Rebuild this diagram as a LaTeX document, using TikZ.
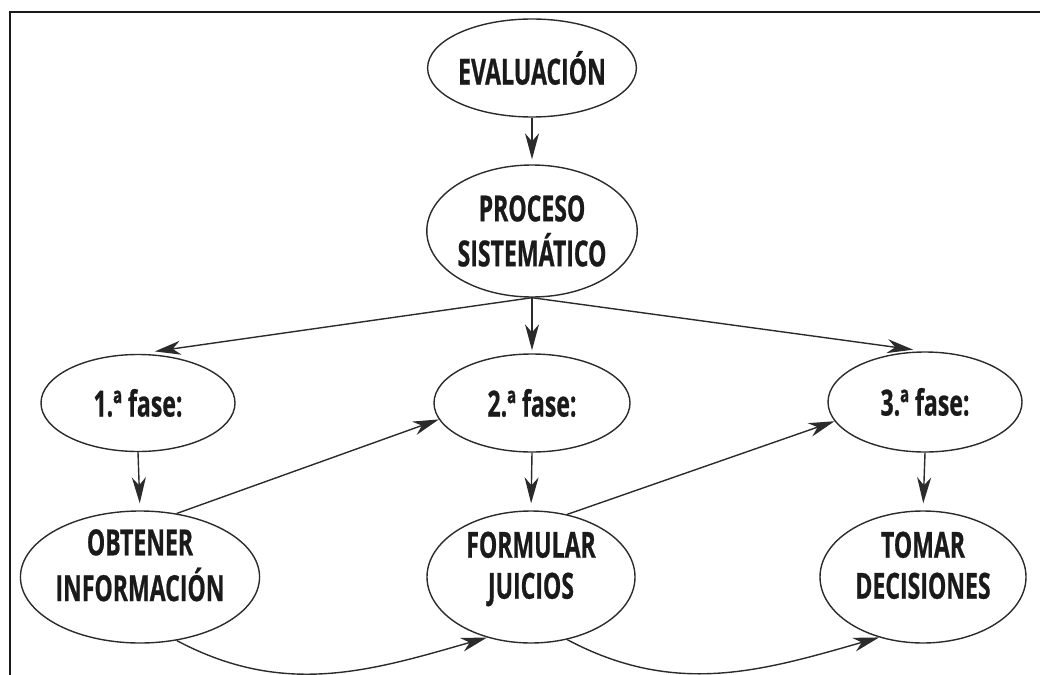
\documentclass[tikz,border=0pt]{standalone}
\usepackage{fontspec}
\newfontfamily\nodefont{Open Sans}[FakeStretch=0.64,FakeBold=0.6]
\usetikzlibrary{shapes.geometric,arrows.meta}
\definecolor{inkc}{HTML}{1A1A1A}
\definecolor{linec}{HTML}{2B2B2B}
\newcommand{\liftup}[1]{\raisebox{7pt}[\height][\depth]{\begin{tabular}{@{}c@{}}#1\end{tabular}}}
\begin{document}
\begin{tikzpicture}[x=1pt,y=-1pt,
  oval/.style={ellipse,draw=linec,line width=1.4pt,inner sep=0pt,align=center,
    text=inkc,font=\nodefont\bfseries\fontsize{36}{45}\selectfont},
  lowoval/.style={oval,font=\nodefont\bfseries\fontsize{36}{41}\selectfont},
  conn/.style={draw=linec,line width=1.4pt,-{Stealth[length=26pt,width=14pt,inset=8pt]}}]
\useasboundingbox (0,0) rectangle (1040,674);
\clip (0,0) rectangle (1040,674);
\draw[line width=2pt,draw=inkc] (9.5,12) rectangle (1060,700);
\node[oval,minimum width=191pt,minimum height=98pt] (ev) at (532,68) {EVALUACIÓN};
\node[oval,minimum width=195pt,minimum height=132pt] (pr) at (532,231) {PROCESO\\SISTEMÁTICO};
\node[oval,minimum width=194pt,minimum height=97pt] (f1) at (138,403) {1.ª fase:};
\node[oval,minimum width=196pt,minimum height=98pt] (f2) at (532,403) {2.ª fase:};
\node[oval,minimum width=194pt,minimum height=100pt] (f3) at (925,402) {3.ª fase:};
\node[lowoval,minimum width=210pt,minimum height=132pt] (ob) at (140,577) {\liftup{OBTENER\\INFORMACIÓN}};
\node[lowoval,minimum width=208pt,minimum height=132pt] (fo) at (531,577) {\liftup{FORMULAR\\JUICIOS}};
\node[lowoval,minimum width=206pt,minimum height=132pt] (to) at (923,577) {\liftup{TOMAR\\DECISIONES}};
\draw[conn,shorten >=5pt] (ev.south) -- (pr.north);
\draw[conn,shorten >=17pt] (pr.south) -- (f1.north);
\draw[conn,shorten >=3pt] (pr.south) -- (f2.north);
\draw[conn,shorten >=12pt] (pr.south) -- (f3.north);
\draw[conn,shorten >=7pt] (f1.south) -- (ob.north);
\draw[conn,shorten >=7pt] (f2.south) -- (fo.north);
\draw[conn,shorten >=7pt] (f3.south) -- (to.north);
\draw[conn] (ob.60) -- (f2.190);
\draw[conn] (fo.60) -- (f3.192);
\draw[conn] (ob.-60) to[out=-28,in=196] (fo.234);
\draw[conn] (fo.-60) to[out=-28,in=196] (to.234);
\end{tikzpicture}
\end{document}
